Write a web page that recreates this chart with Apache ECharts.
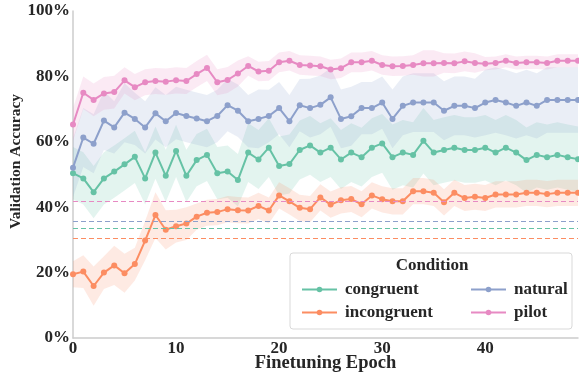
<!DOCTYPE html>
<html>
<head>
<meta charset="utf-8">
<script src="https://cdn.jsdelivr.net/npm/echarts@6/dist/echarts.min.js"></script>
<style>
html, body { margin: 0; padding: 0; background: #fff; }
#main { width: 579px; height: 374px; }
</style>
</head>
<body>
<div id="main"></div>
<script>
// finetuning epochs 0..49
var epochs = [];
for (var i = 0; i < 50; i++) epochs.push(String(i));

// mean validation accuracy (%) per condition
var congruent = [50.4, 48.8, 44.6, 48.8, 50.9, 53.1, 55.4, 48.8, 56.7, 49.6,
  57.2, 49.6, 54.4, 56.0, 50.4, 50.9, 48.3, 56.7, 54.6, 58.2,
  52.6, 53.2, 57.5, 58.9, 56.7, 58.2, 54.6, 56.7, 55.3, 58.2,
  59.5, 55.3, 56.7, 56.0, 60.3, 56.7, 57.5, 58.2, 57.5, 57.5,
  58.2, 56.7, 58.2, 56.7, 54.4, 56.0, 55.3, 56.0, 55.3, 54.7];
var incongruent = [19.5, 20.3, 15.9, 20.0, 22.2, 19.8, 22.6, 29.8, 37.6, 33.1,
  34.2, 35.0, 37.1, 38.3, 38.5, 39.4, 39.1, 39.0, 40.4, 39.0,
  43.6, 41.8, 39.8, 39.4, 43.0, 40.8, 42.1, 42.5, 40.9, 43.6,
  42.4, 41.8, 41.8, 44.9, 44.9, 44.4, 41.5, 44.4, 42.8, 43.2,
  42.8, 43.9, 43.9, 43.9, 44.4, 44.4, 44.0, 44.4, 44.4, 44.4];
var natural = [52.1, 61.3, 59.4, 66.5, 64.4, 68.9, 67.0, 64.4, 68.7, 66.3,
  68.8, 67.9, 67.1, 66.3, 67.9, 71.2, 69.5, 66.3, 67.0, 67.9,
  70.3, 66.3, 71.2, 70.3, 71.3, 73.6, 67.0, 67.8, 70.3, 70.3,
  72.0, 67.0, 71.0, 72.0, 72.0, 72.0, 69.5, 71.0, 71.0, 70.3,
  72.0, 72.8, 72.0, 71.0, 72.0, 71.0, 72.8, 72.8, 72.8, 72.8];
var pilot = [65.3, 75.0, 72.8, 74.8, 75.2, 78.8, 76.7, 78.2, 78.6, 78.4,
  78.8, 78.6, 80.7, 82.6, 78.2, 78.9, 80.9, 83.2, 81.5, 81.7,
  84.3, 84.8, 83.5, 83.3, 83.1, 82.1, 82.5, 84.3, 84.3, 84.8,
  83.5, 83.1, 83.2, 83.5, 84.0, 84.0, 84.1, 84.0, 84.6, 84.1,
  83.9, 84.1, 84.8, 84.1, 84.3, 84.3, 84.1, 84.8, 84.8, 84.8];

// half width of the shaded interval
var congruentSpread = [8, 8, 8, 8, 8, 8, 8, 8, 8, 8, 8, 8, 8, 8, 8, 8, 8, 9, 9, 9,
  9, 9, 9, 9, 9, 9, 9, 9, 9, 9, 9, 10, 10, 10, 10, 10, 10, 10, 10, 10,
  10, 10, 10, 10, 10, 10, 10, 10, 10, 10];
var incongruentSpread = [4, 5, 6, 5, 6, 6, 5, 6, 7, 6, 5, 5, 4, 4, 4, 4, 4, 4, 4, 4,
  4, 4, 4, 4, 4, 4, 4, 4, 4, 4, 4, 4, 4, 4, 4, 4, 4, 4, 4, 4,
  4, 4, 4, 4, 4, 4, 4, 4, 4, 4];
var naturalSpread = [9, 9, 9, 9, 8, 9, 8, 8, 8, 8, 8, 8, 8, 8, 8, 8, 8, 8, 9, 8,
  8, 8, 8, 9, 9, 9, 9, 9, 8, 8, 8, 9, 9, 9, 9, 9, 9, 9, 9, 9,
  10, 10, 10, 10, 10, 10, 10, 10, 10, 10];
var pilotSpread = [5, 5, 5, 5, 5, 4, 4, 4, 4, 4, 4, 4, 4, 4, 4, 4, 4, 3, 3, 3,
  3, 3, 3, 3, 3, 3, 3, 3, 3, 3, 3, 3, 3, 3, 4, 4, 3, 3, 3, 3,
  2, 2, 2, 2, 2, 2, 2, 2, 2, 2];

// dashed reference levels
var baselines = { congruent: 33.5, incongruent: 30.6, natural: 35.7, pilot: 41.7 };

var yTicks = [0, 20, 40, 60, 80, 100];

var conditions = [
  { name: "congruent", data: congruent, spread: congruentSpread, color: "#66c2a5" },
  { name: "incongruent", data: incongruent, spread: incongruentSpread, color: "#fc8d62" },
  { name: "natural", data: natural, spread: naturalSpread, color: "#8da0cb" },
  { name: "pilot", data: pilot, spread: pilotSpread, color: "#e78ac3" }
];

var font = "Liberation Serif";
var txt = "#262626";

var series = [];
// shaded bands first (lower bound transparent + stacked width)
conditions.forEach(function (c) {
  series.push({
    name: c.name + "_lo",
    type: "line",
    stack: c.name + "_band",
    data: c.data.map(function (v, k) { return +(v - c.spread[k]).toFixed(1); }),
    symbol: "none",
    lineStyle: { opacity: 0 },
    silent: true,
    z: 1
  });
  series.push({
    name: c.name + "_hi",
    type: "line",
    stack: c.name + "_band",
    data: c.spread.map(function (s) { return 2 * s; }),
    symbol: "none",
    lineStyle: { opacity: 0 },
    areaStyle: { color: c.color, opacity: 0.18 },
    silent: true,
    z: 1
  });
});
conditions.forEach(function (c) {
  series.push({
    name: c.name,
    type: "line",
    data: c.data,
    color: c.color,
    symbol: "circle",
    symbolSize: 6,
    lineStyle: { width: 2 },
    z: 3,
    markLine: {
      silent: true,
      symbol: "none",
      label: { show: false },
      lineStyle: { color: c.color, type: [5, 3], width: 1.2 },
      data: [{ yAxis: baselines[c.name] }]
    }
  });
});

var legendText = { fontFamily: font, fontWeight: "bold", fontSize: 17, color: txt, padding: [0, 0, 0, 3] };

var chart = echarts.init(document.getElementById("main"));
chart.setOption({
  animation: false,
  backgroundColor: "#fff",
  grid: { left: 73, right: 1, top: 11, bottom: 36, containLabel: false, outerBoundsMode: "none" },
  xAxis: {
    type: "category",
    data: epochs,
    boundaryGap: false,
    name: "Finetuning Epoch",
    nameLocation: "middle",
    nameGap: 16,
    nameMoveOverlap: false,
    nameTextStyle: { fontFamily: font, fontWeight: "bold", fontSize: 18.5, color: txt },
    axisLine: { lineStyle: { color: "#cccccc", width: 1.5 } },
    axisTick: { show: false },
    axisLabel: {
      interval: 9,
      fontFamily: font, fontWeight: "bold", fontSize: 17, color: txt, margin: 2
    },
    splitLine: { show: false }
  },
  yAxis: {
    type: "value",
    min: yTicks[0],
    max: yTicks[yTicks.length - 1],
    interval: 20,
    name: "Validation Accuracy",
    nameLocation: "middle",
    nameGap: 49,
    nameMoveOverlap: false,
    nameTextStyle: { fontFamily: font, fontWeight: "bold", fontSize: 15.5, color: txt, padding: [0, 0, 0, 26] },
    axisLine: { show: true, lineStyle: { color: "#cccccc", width: 1.5 } },
    axisTick: { show: false },
    axisLabel: {
      formatter: "{value}%",
      fontFamily: font, fontWeight: "bold", fontSize: 17, color: txt, margin: 3
    },
    splitLine: { show: false }
  },
  graphic: [
    {
      type: "rect", z: 10,
      shape: { x: 290, y: 253, width: 282, height: 76, r: 3 },
      style: { fill: "#fff", stroke: "#d9d9d9", lineWidth: 1 }
    },
    {
      type: "text", z: 11, x: 432, y: 266,
      style: {
        text: "Condition", fontFamily: font, fontWeight: "bold", fontSize: 17,
        fill: txt, align: "center", verticalAlign: "middle"
      }
    }
  ],
  legend: [
    {
      data: ["congruent", "incongruent"],
      orient: "vertical", left: 296, top: 276, z: 12,
      itemWidth: 35, itemHeight: 7, itemGap: 6,
      textStyle: legendText
    },
    {
      data: ["natural", "pilot"],
      orient: "vertical", left: 465, top: 276, z: 12,
      itemWidth: 35, itemHeight: 7, itemGap: 6,
      textStyle: legendText
    }
  ],
  series: series
});
</script>
</body>
</html>
